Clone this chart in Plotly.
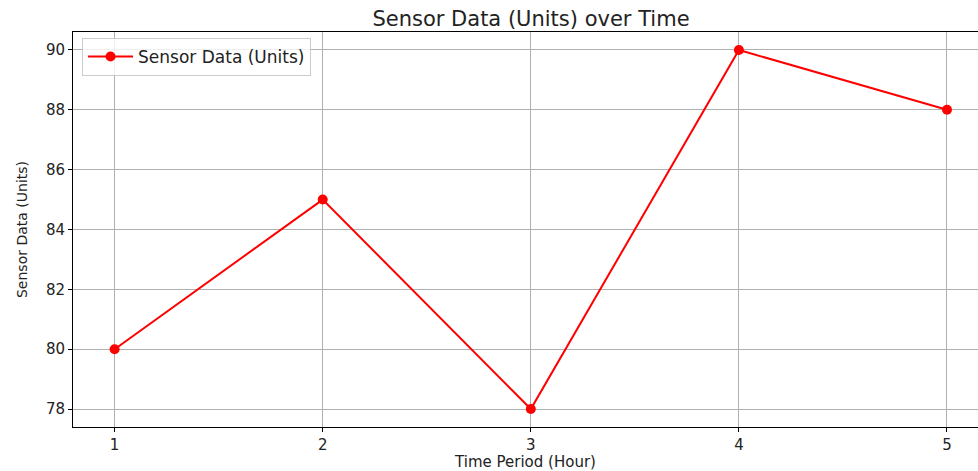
import plotly.graph_objects as go

hours = [1, 2, 3, 4, 5]
values = [80, 85, 78, 90, 88]
y_ticks = [78, 80, 82, 84, 86, 88, 90]
series_name = "Sensor Data (Units)"

fig = go.Figure()
fig.add_trace(go.Scatter(
    x=hours, y=values, mode="lines+markers", name=series_name,
    line=dict(color="red", width=2),
    marker=dict(color="red", size=10),
))

font = "DejaVu Sans, sans-serif"
W, H = 978, 471
fig.update_layout(
    width=W, height=H,
    margin=dict(l=73, r=0, t=32, b=44),
    plot_bgcolor="white", paper_bgcolor="white",
    font=dict(family=font, size=16, color="#222"),
    title=dict(text="Sensor Data (Units) over Time", x=531/W, xanchor="center",
               y=1 - 19/H, yanchor="middle", font=dict(size=21, color="#222")),
    showlegend=True,
    legend=dict(x=0.01, y=0.985, xanchor="left", yanchor="top", itemwidth=45,
                bgcolor="rgba(255,255,255,0.8)", bordercolor="#cccccc", borderwidth=1,
                font=dict(size=17, color="#222")),
    xaxis=dict(range=[0.8, 5.149], tickvals=hours, showgrid=True, gridcolor="#b0b0b0",
               gridwidth=1, showline=True, linecolor="black", linewidth=1, mirror=True,
               ticks="outside", ticklen=4, tickcolor="black", zeroline=False,
               tickfont=dict(size=15),
               title=dict(text="Time Period (Hour)", standoff=3, font=dict(size=15))),
    yaxis=dict(range=[77.4, 90.6], tickvals=y_ticks, showgrid=True, gridcolor="#b0b0b0",
               gridwidth=1, showline=True, linecolor="black", linewidth=1, mirror=False,
               ticks="outside", ticklen=4, tickcolor="black", zeroline=False,
               tickfont=dict(size=15),
               title=dict(text="Sensor Data (Units)", standoff=15, font=dict(size=14))),
)

fig.write_html("out.html", config={"displayModeBar": False},
               post_script="document.body.style.margin='0';document.body.style.overflow='hidden';")
